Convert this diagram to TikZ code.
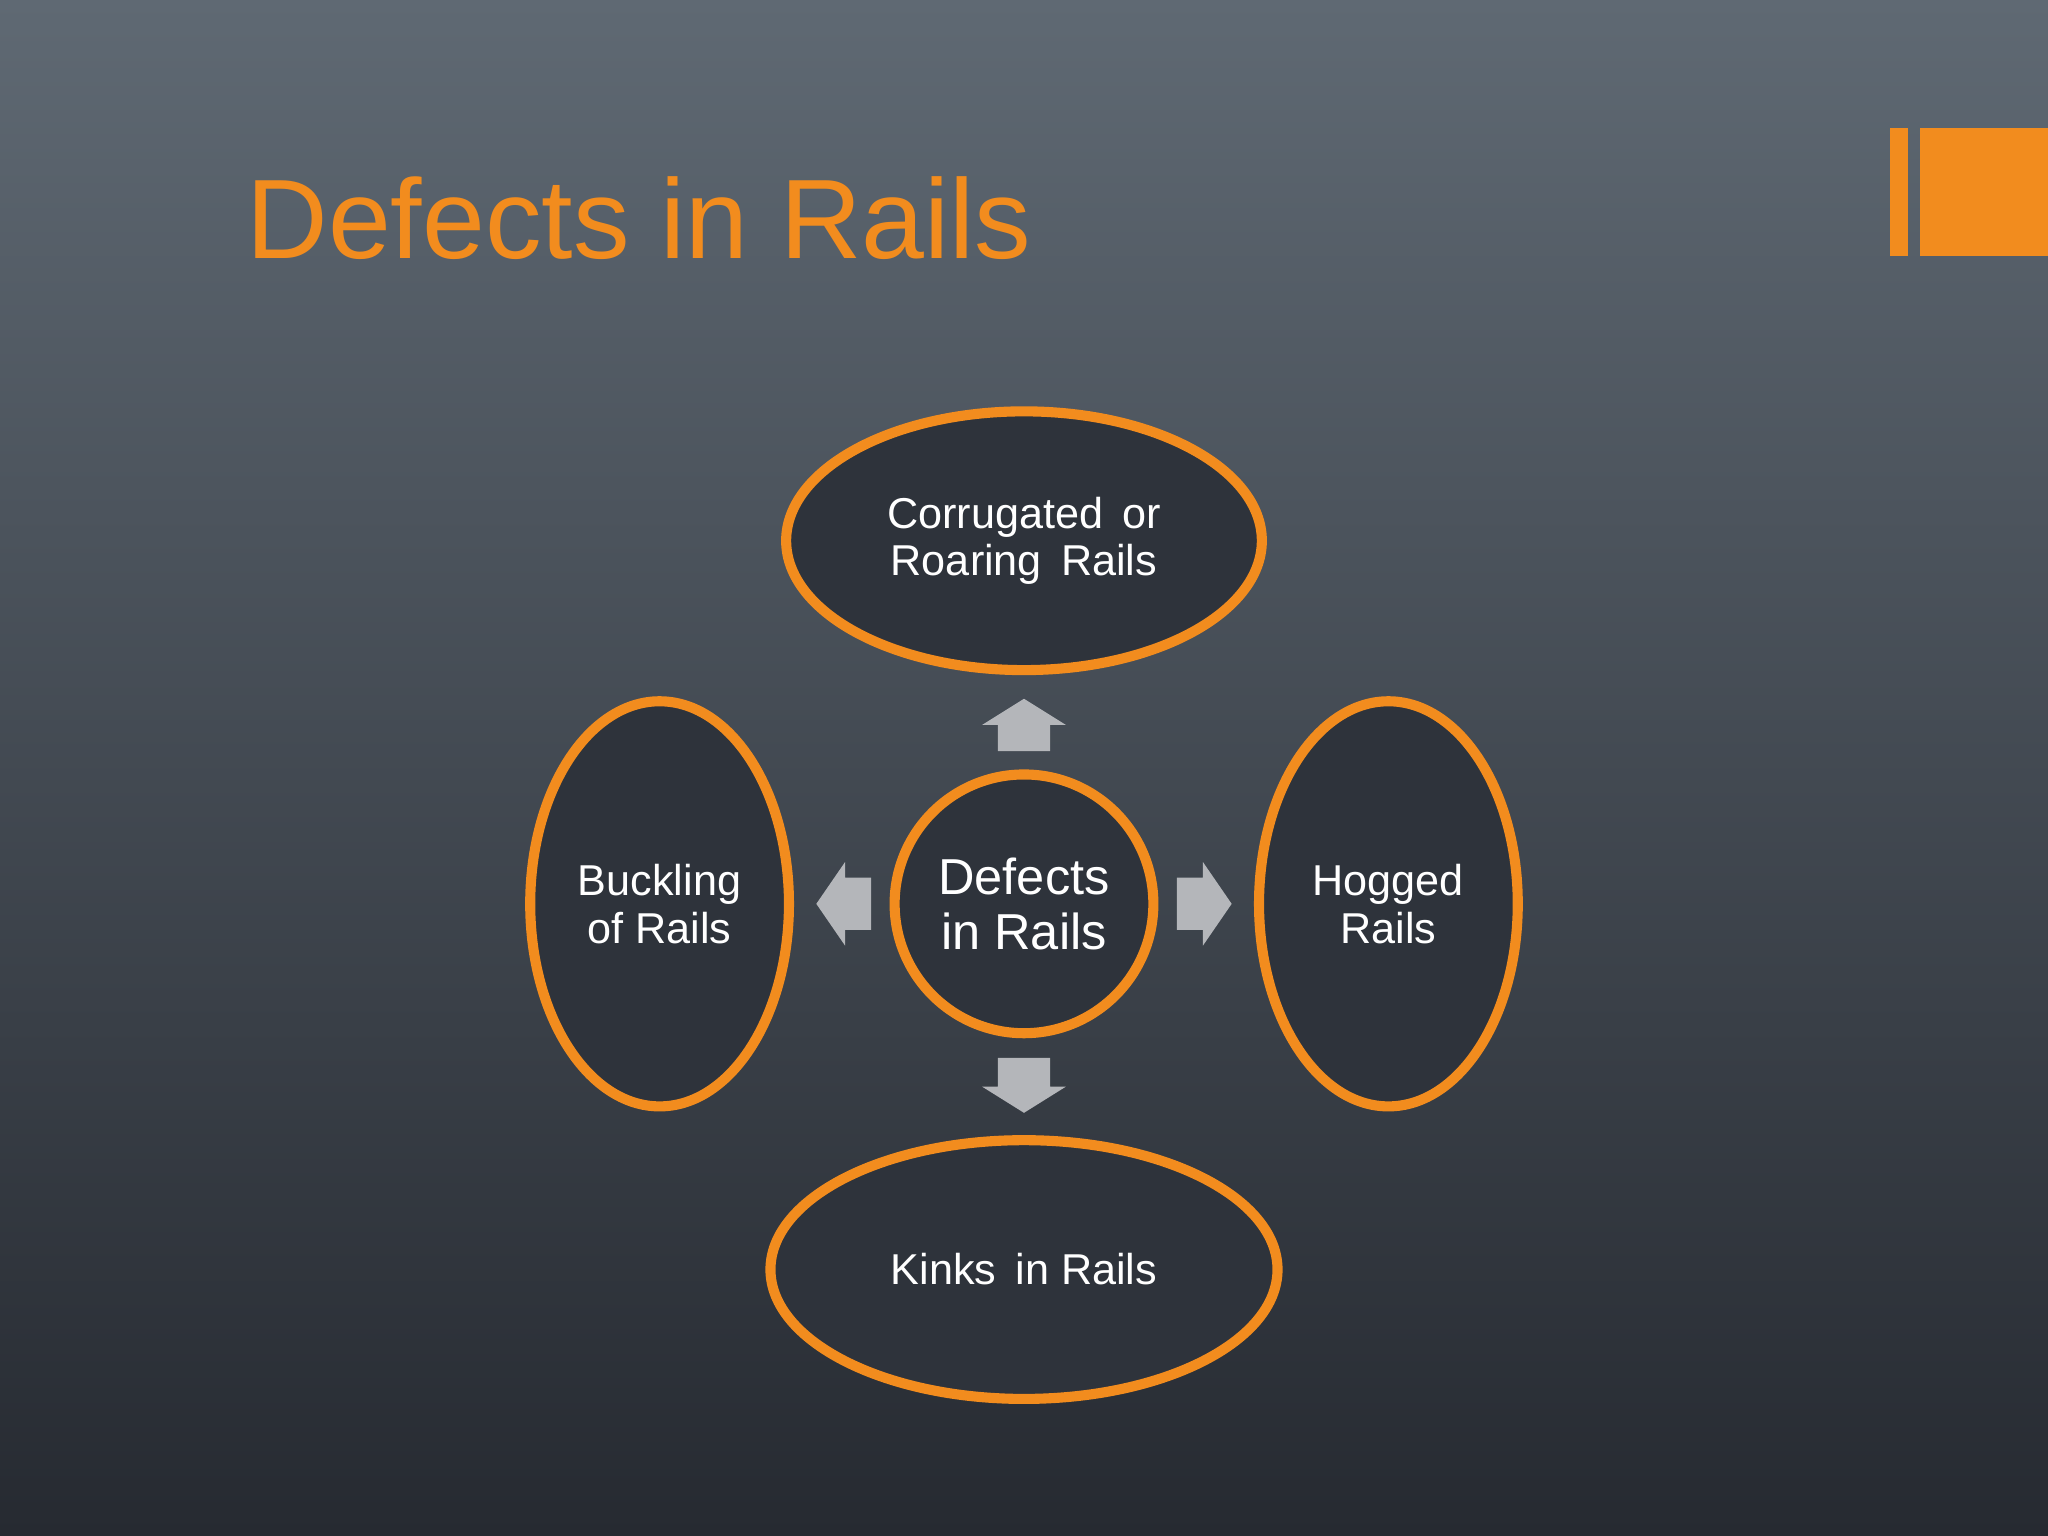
\documentclass[tikz,border=0pt]{standalone}
\usepackage{fontspec}
\setmainfont{Liberation Sans}
\usetikzlibrary{shapes.geometric}
\definecolor{bgtop}{HTML}{5F6973}
\definecolor{bgbot}{HTML}{262A31}
\definecolor{org}{HTML}{F28C1E}
\definecolor{efill}{HTML}{2E333B}
\definecolor{arr}{HTML}{B4B6BA}
\begin{document}
\begin{tikzpicture}[x=0.01cm,y=-0.01cm,
  oval/.style={ellipse,draw=org,line width=2.2pt,fill=efill,text=white,align=center,inner sep=0pt},
  blockarr/.style={fill=arr,draw=none}]
\useasboundingbox (0,0) rectangle (1568,1176);
\shade[top color=bgtop,bottom color=bgbot] (0,0) rectangle (1568,1176);
\node[anchor=base west,text=org,font=\fontsize{24.6pt}{27pt}\selectfont,inner sep=0pt] (title) at (188,198) {Defects in Rails};
\fill[org] (1447,98) rectangle (1461,196);
\fill[org] (1470,98) rectangle (1568,196);
\node[oval,minimum width=3.64cm,minimum height=1.98cm,font=\fontsize{9.4pt}{10.4pt}\selectfont] (top) at (784,414) {Corrugated\, or\\Roaring\, Rails};
\node[oval,minimum width=1.98cm,minimum height=3.1cm,font=\fontsize{9.4pt}{10.4pt}\selectfont] (left) at (505,692) {Buckling\\of Rails};
\node[oval,minimum width=1.98cm,minimum height=3.1cm,font=\fontsize{9.4pt}{10.4pt}\selectfont] (right) at (1063,692) {Hogged\\Rails};
\node[oval,minimum width=3.88cm,minimum height=1.98cm,font=\fontsize{9.4pt}{10.4pt}\selectfont] (bot) at (784,972) {Kinks\, in Rails};
\node[oval,circle,minimum size=1.98cm,font=\fontsize{11pt}{12pt}\selectfont] (c) at (784,692) {Defects\\in Rails};
% arrows
\fill[blockarr] (784,535) -- (816,555) -- (804,555) -- (804,575) -- (764,575) -- (764,555) -- (752,555) -- cycle;
\fill[blockarr] (784,852) -- (816,832) -- (804,832) -- (804,810) -- (764,810) -- (764,832) -- (752,832) -- cycle;
\fill[blockarr] (625,692) -- (647,660) -- (647,672) -- (667,672) -- (667,712) -- (647,712) -- (647,724) -- cycle;
\fill[blockarr] (943,692) -- (921,660) -- (921,672) -- (901,672) -- (901,712) -- (921,712) -- (921,724) -- cycle;
\end{tikzpicture}
\end{document}
